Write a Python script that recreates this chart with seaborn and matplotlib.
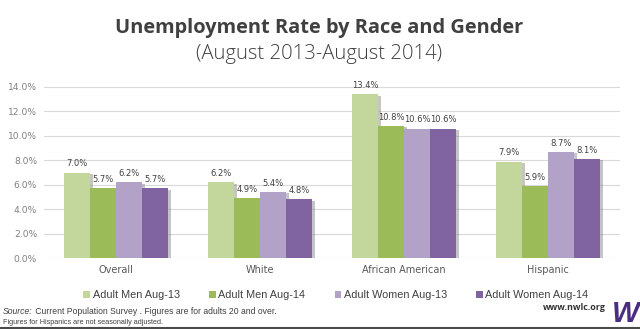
import matplotlib
matplotlib.use("Agg")
import matplotlib.pyplot as plt
import matplotlib.patheffects as pe
from matplotlib import font_manager
import seaborn as sns
import pandas as pd

# Unemployment rates (%) by group
groups = ["Overall", "White", "African American", "Hispanic"]
series = ["Adult Men Aug-13", "Adult Men Aug-14", "Adult Women Aug-13", "Adult Women Aug-14"]
men_aug13 = [7.0, 6.2, 13.4, 7.9]
men_aug14 = [5.7, 4.9, 10.8, 5.9]
women_aug13 = [6.2, 5.4, 10.6, 8.7]
women_aug14 = [5.7, 4.8, 10.6, 8.1]
yticks = [0, 2, 4, 6, 8, 10, 12, 14]
colors = ["#c3d69b", "#9bbb59", "#b3a2c7", "#8064a2"]

rows = []
for name, vals in zip(series, [men_aug13, men_aug14, women_aug13, women_aug14]):
    for g, v in zip(groups, vals):
        rows.append({"group": g, "series": name, "rate": v})
df = pd.DataFrame(rows)

sns.set_theme(style="white")
plt.rcParams["font.family"] = ["DejaVu Sans"]


def has_font(name):
    try:
        font_manager.findfont(font_manager.FontProperties(family=name),
                              fallback_to_default=False)
        return True
    except Exception:
        return False


# condensed face for the footnote when available
NARROW = has_font("Liberation Sans Narrow")
note_family = "Liberation Sans Narrow" if NARROW else "Liberation Sans"
note1_size = 7.4 if NARROW else 6.2
note2_size = 6.3 if NARROW else 5.2

fig = plt.figure(figsize=(6.4, 3.29), dpi=100)
fig.patch.set_facecolor("white")
W, H = 640, 329
ax = fig.add_axes([44 / W, (H - 258) / H, (620 - 44) / W, (258 - 87) / H])

sns.barplot(data=df, x="group", y="rate", hue="series", order=groups,
            hue_order=series, palette=colors, width=0.72, errorbar=None,
            saturation=1, ax=ax, zorder=3, legend=True)

shadow = [pe.SimplePatchShadow(offset=(2, -1), shadow_rgbFace="#808080", alpha=0.45),
          pe.Normal()]
for p in ax.patches:
    p.set_path_effects(shadow)
    p.set_linewidth(0)

for cont in ax.containers:
    ax.bar_label(cont, fmt="%.1f%%", padding=3, fontsize=6.0, color="#404040")

ax.set_ylim(0, 14)
ax.set_xlim(-0.5, 3.5)
ax.set_yticks(yticks)
ax.set_yticklabels([f"{t:.1f}%" for t in yticks], fontsize=6.6, color="#808080")
ax.tick_params(axis="x", labelsize=7.0, labelcolor="#595959", length=0, pad=5)
ax.tick_params(axis="y", length=0, pad=5)
ax.set_xlabel("")
ax.set_ylabel("")
ax.grid(axis="y", color="#d9d9d9", linewidth=0.8, zorder=0)
ax.grid(axis="x", visible=False)
for s in ax.spines.values():
    s.set_visible(False)

handles, labels = ax.get_legend_handles_labels()
ax.get_legend().remove()
for h in handles:
    h.set_path_effects([])
fig.legend(handles, labels, loc="center", bbox_to_anchor=(336 / W, (H - 295) / H),
           ncol=4, frameon=False, labelcolor="#404040",
           prop={"family": "Liberation Sans", "size": 7.8},
           handlelength=0.6, handleheight=0.6, handletextpad=0.25, columnspacing=2.7)

fig.text(319 / W, (H - 33) / H, "Unemployment Rate by Race and Gender", ha="center",
         va="baseline", fontsize=14.4, fontweight="bold", color="#404040",
         family="Open Sans")
fig.text(319 / W, (H - 59) / H, "(August 2013-August 2014)", ha="center",
         va="baseline", fontsize=14.6, color="#404040", family="Open Sans",
         fontweight="light")

# source note
src = fig.text(3 / W, (H - 311) / H, "Source:", ha="left", va="center",
               fontsize=note1_size, style="italic", color="#404040",
               family=note_family)
ax.annotate(" Current Population Survey . Figures are for adults 20 and over.",
            xy=(1.0, 0.5), xycoords=src, ha="left", va="center",
            fontsize=note1_size, color="#404040", family=note_family,
            annotation_clip=False)
fig.text(3 / W, (H - 322) / H, "Figures for Hispanics are not seasonally adjusted.",
         ha="left", va="center", fontsize=note2_size, color="#404040",
         family=note_family)

fig.text(606 / W, (H - 308) / H, "www.nwlc.org", ha="right", va="center",
         fontsize=6.4, fontweight="bold", color="#333333", family="Open Sans")
fig.text(639 / W, (H - 328) / H, "W", ha="right", va="bottom", fontsize=21,
         fontweight="bold", style="italic", color="#4b2c83",
         family="Liberation Sans")

fig.add_artist(plt.Line2D([0, 1], [(H - 328) / H] * 2, color="#4a4a4a",
                          linewidth=1.5, transform=fig.transFigure))

fig.savefig("out.png", dpi=100, facecolor="white")
